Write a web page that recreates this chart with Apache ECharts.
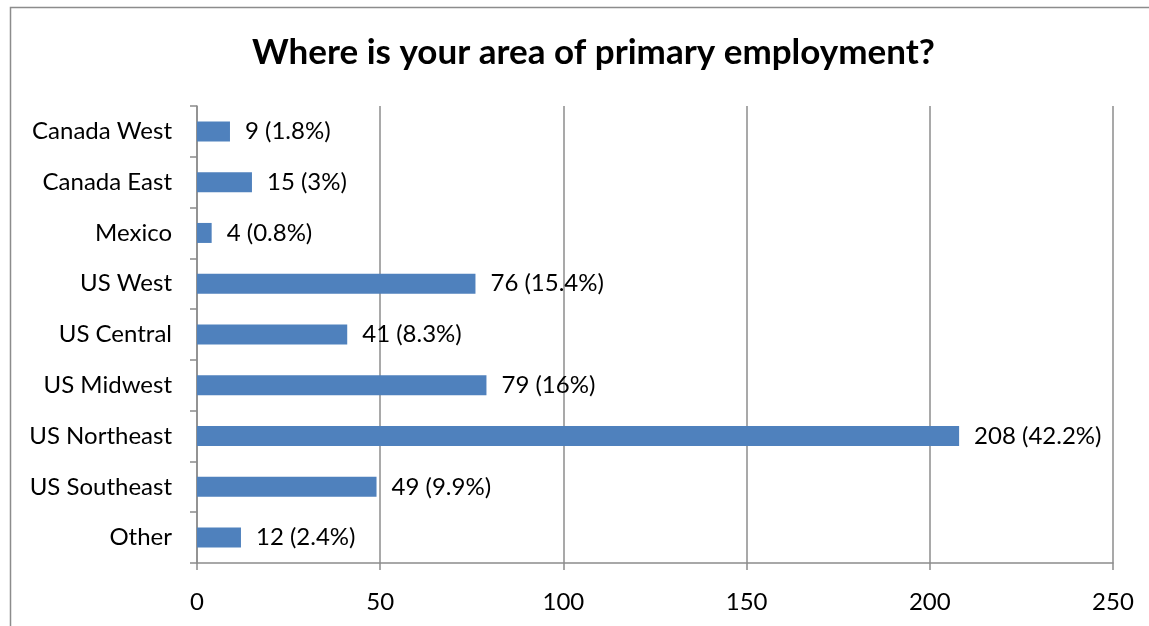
<!DOCTYPE html>
<html>
<head>
<meta charset="utf-8">
<script src="https://cdn.jsdelivr.net/npm/echarts@6/dist/echarts.min.js"></script>
<style>
  html, body { margin: 0; padding: 0; background: #fff; }
  #main { width: 1149px; height: 626px; }
</style>
</head>
<body>
<div id="main"></div>
<script>
var categories = ['Canada West', 'Canada East', 'Mexico', 'US West', 'US Central',
                  'US Midwest', 'US Northeast', 'US Southeast', 'Other'];
var counts = [9, 15, 4, 76, 41, 79, 208, 49, 12];
var percents = ['1.8', '3', '0.8', '15.4', '8.3', '16', '42.2', '9.9', '2.4'];
var xTicks = [0, 50, 100, 150, 200, 250];

var font = 'Lato, "Open Sans", sans-serif';
var grey = '#8c8c8c';

var option = {
  animation: false,
  textStyle: { fontFamily: font },
  title: {
    text: 'Where is your area of primary employment?',
    left: 247,
    top: 30,
    textStyle: { fontSize: 35, fontWeight: 'bold', color: '#000', fontFamily: font }
  },
  graphic: [{
    type: 'rect',
    shape: { x: 10.5, y: 7.5, width: 1300, height: 800 },
    style: { fill: 'none', stroke: grey, lineWidth: 1.5 },
    silent: true
  }],
  grid: { left: 197, right: 36, top: 106, bottom: 63 },
  xAxis: {
    type: 'value',
    min: xTicks[0],
    max: xTicks[xTicks.length - 1],
    interval: 50,
    axisLine: { show: true, lineStyle: { color: grey, width: 1.5 } },
    axisTick: { show: true, length: 7, lineStyle: { color: grey, width: 1.5 } },
    splitLine: { show: true, lineStyle: { color: grey, width: 1.5 } },
    axisLabel: { color: '#000', fontSize: 24, margin: 27, fontFamily: font }
  },
  yAxis: {
    type: 'category',
    inverse: true,
    data: categories,
    axisLine: { show: true, lineStyle: { color: grey, width: 1.5 } },
    axisTick: { show: true, length: 7, lineStyle: { color: grey, width: 1.5 } },
    axisLabel: { color: '#000', fontSize: 24, margin: 25, fontFamily: font }
  },
  series: [{
    type: 'bar',
    data: counts,
    barWidth: 20,
    itemStyle: { color: '#4F81BD' },
    label: {
      show: true,
      position: 'right',
      distance: 15,
      color: '#000',
      fontSize: 24,
      fontFamily: font,
      formatter: function (p) { return p.value + ' (' + percents[p.dataIndex] + '%)'; }
    }
  }]
};
echarts.init(document.getElementById('main')).setOption(option);
</script>
</body>
</html>
